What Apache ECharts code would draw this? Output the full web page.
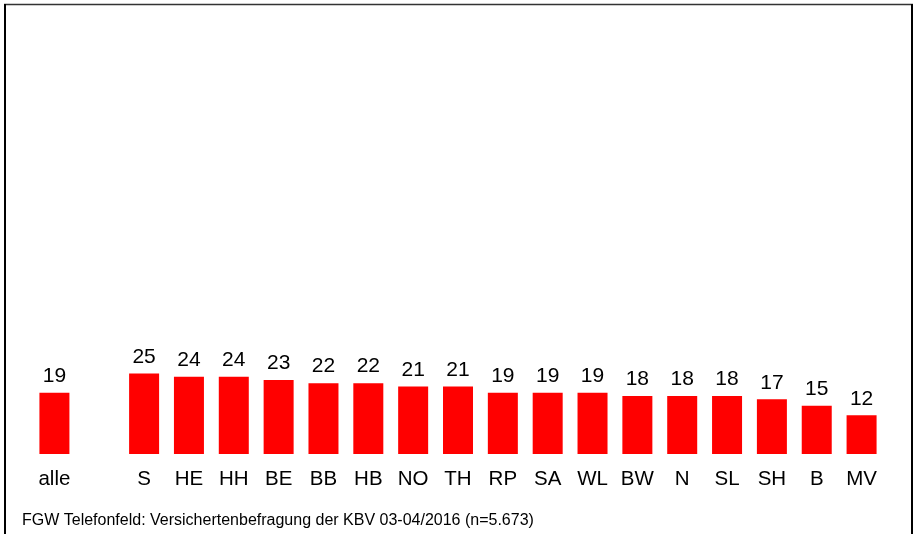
<!DOCTYPE html>
<html>
<head>
<meta charset="utf-8">
<script src="https://cdn.jsdelivr.net/npm/echarts@6/dist/echarts.min.js"></script>
<style>
  html, body { margin: 0; padding: 0; background: #fff; }
  #chart { width: 917px; height: 534px; }
</style>
</head>
<body>
<div id="chart"></div>
<script>
// Regions (blank slot separates the overall value from the states)
const categories = ['alle', '', 'S', 'HE', 'HH', 'BE', 'BB', 'HB', 'NO', 'TH', 'RP', 'SA', 'WL', 'BW', 'N', 'SL', 'SH', 'B', 'MV'];
const values = [19, null, 25, 24, 24, 23, 22, 22, 21, 21, 19, 19, 19, 18, 18, 18, 17, 15, 12];
const sourceNote = 'FGW Telefonfeld: Versichertenbefragung der KBV 03-04/2016 (n=5.673)';

const FONT = '"Liberation Sans", Arial, Helvetica, sans-serif';

const chart = echarts.init(document.getElementById('chart'), null, { renderer: 'canvas' });

chart.setOption({
  animation: false,
  backgroundColor: '#ffffff',
  grid: { left: 32, right: 33, top: 132, bottom: 80, containLabel: false },
  xAxis: {
    type: 'category',
    data: categories,
    axisLine: { show: false },
    axisTick: { show: false },
    axisLabel: {
      interval: 0,
      margin: 15,
      color: '#000',
      fontSize: 20.5,
      fontFamily: FONT
    }
  },
  yAxis: {
    type: 'value',
    min: 0,
    max: 100,
    show: false,
    splitLine: { show: false }
  },
  series: [{
    type: 'bar',
    data: values,
    barWidth: 30,
    itemStyle: { color: '#ff0000' },
    label: {
      show: true,
      position: 'top',
      distance: 6,
      color: '#000',
      fontSize: 21,
      fontFamily: FONT
    }
  }],
  graphic: [
    // frame: top, left and right edges
    { type: 'line', silent: true, shape: { x1: 4, y1: 4.5, x2: 913, y2: 4.5 }, style: { stroke: '#333', lineWidth: 1.5 } },
    { type: 'line', silent: true, shape: { x1: 5, y1: 4, x2: 5, y2: 534 }, style: { stroke: '#000', lineWidth: 2 } },
    { type: 'line', silent: true, shape: { x1: 912, y1: 4, x2: 912, y2: 534 }, style: { stroke: '#000', lineWidth: 2 } },
    {
      type: 'text', silent: true, left: 22, top: 513,
      style: { text: sourceNote, fill: '#000', font: '16px ' + FONT }
    }
  ]
});
</script>
</body>
</html>
